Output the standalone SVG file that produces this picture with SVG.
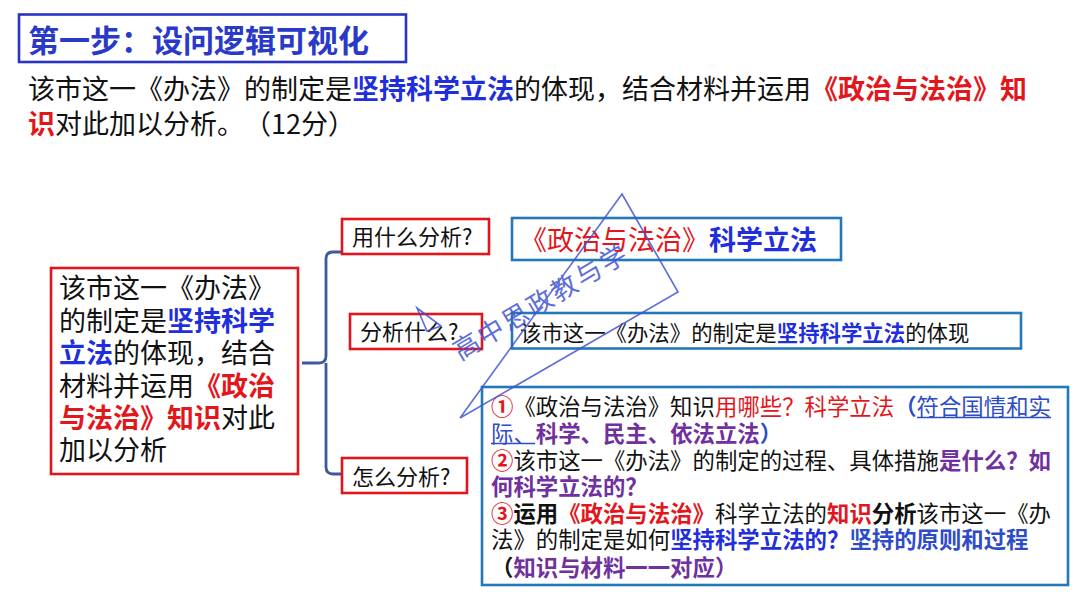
<svg xmlns="http://www.w3.org/2000/svg" width="1080" height="608" viewBox="0 0 1080 608">
<style>
text{font-family:"Noto Sans CJK SC","Noto Sans",sans-serif;fill:#111;}
.b{font-weight:700;}
.red{fill:#e3161c;}
.blu{fill:#1f2fdc;}
.blu2{fill:#2f4cc8;}
.pur{fill:#7030a0;}
.ttl{fill:#2a3ac8;font-weight:700;font-size:31px;}
.rbox{fill:#fff;stroke:#e0151d;stroke-width:2.6;}
.bbox{fill:#fff;stroke:#2478b8;stroke-width:2.6;}
.lbl{font-size:22px;}
.big{font-size:22.4px;}
.l27{font-size:27px;}
.wm{fill:none;stroke:#4254d4;stroke-width:1.6;}
</style>
<rect width="1080" height="608" fill="#fff"/>

<g id="title">
<rect x="19" y="14.5" width="387" height="47.5" fill="#fff" stroke="#2a33c4" stroke-width="2.6"/>
<text x="28" y="52" class="ttl">第一步：设问逻辑可视化</text>
</g>

<g id="question" class="l27">
<text x="28" y="99" class="l27">该市这一《办法》的制定是</text>
<text x="352" y="99" class="l27 b blu">坚持科学立法</text>
<text x="514" y="99" class="l27">的体现，结合材料并运用</text>
<text x="811" y="99" class="l27 b red">《政治与法治》知</text>
<text x="28" y="134" class="l27 b red">识</text>
<text x="55" y="134" class="l27">对此加以分析。</text>
<text x="244" y="134" class="l27">（12分）</text>
</g>

<g id="connectors">
<path d="M302,363 H319 Q326,363 326,356 V259 Q326,252 333,252 H342 M326,363 V467 Q326,474 333,474 H342" fill="none" stroke="#3b5a9c" stroke-width="2.8"/>
</g>

<g id="main">
<rect x="51" y="268" width="247" height="206" class="rbox"/>
<text x="59" y="298" class="l27">该市这一《办法》</text>
<text x="59" y="330.5" class="l27">的制定是</text>
<text x="167" y="330.5" class="l27 b blu">坚持科学</text>
<text x="59" y="363" class="l27 b blu">立法</text>
<text x="113" y="363" class="l27">的体现，结合</text>
<text x="59" y="395.5" class="l27">材料并运用</text>
<text x="194" y="395.5" class="l27 b red">《政治</text>
<text x="59" y="428" class="l27 b red">与法治》知识</text>
<text x="221" y="428" class="l27">对此</text>
<text x="59" y="460" class="l27">加以分析</text>
</g>

<g id="q1">
<rect x="342" y="219" width="147" height="35" class="rbox"/>
<text x="352" y="245" class="lbl">用什么分析?</text>
</g>
<g id="q2">
<rect x="350" y="314" width="132" height="35" class="rbox"/>
<text x="360" y="340" class="lbl">分析什么?</text>
</g>
<g id="q3">
<rect x="342" y="458" width="125" height="35" class="rbox"/>
<text x="352" y="485" class="lbl">怎么分析?</text>
</g>

<g id="a1">
<rect x="512" y="218" width="329" height="42" class="bbox"/>
<text x="520" y="250" class="l27 red">《政治与法治》</text>
<text x="709" y="250" class="l27 b blu">科学立法</text>
</g>

<g id="a2">
<rect x="512" y="313" width="509" height="35.5" class="bbox"/>
<text x="520" y="341" font-size="21.4">该市这一《办法》的制定是</text>
<text x="776.8" y="341" font-size="21.4" class="b blu">坚持科学立法</text>
<text x="905.2" y="341" font-size="21.4">的体现</text>
</g>

<g id="a3">
<rect x="482" y="387" width="586" height="198" class="bbox"/>
<text x="491" y="415" class="big b red">①</text>
<text x="513.4" y="415" class="big">《政治与法治》知识</text>
<text x="715" y="415" class="big red">用哪些？科学立法</text>
<text x="894.2" y="415" class="big b blu2">（</text>
<text x="916.6" y="415" class="big blu2">符合国情和实</text>

<text x="491" y="441.5" class="big blu2">际、</text>
<text x="535.8" y="441.5" class="big b pur">科学、民主、依法立法</text>
<text x="759.8" y="441.5" class="big b blu2">）</text>

<text x="491" y="469" class="big b red">②</text>
<text x="513.4" y="469" class="big">该市这一《办法》的制定的过程、具体措施</text>
<text x="939" y="469" class="big b pur">是什么？如</text>

<text x="491" y="495" class="big b pur">何科学立法的？</text>

<text x="491" y="521.5" class="big b red">③</text>
<text x="513.4" y="521.5" class="big b">运用</text>
<text x="558.2" y="521.5" class="big b red">《政治与法治》</text>
<text x="715" y="521.5" class="big">科学立法的</text>
<text x="827" y="521.5" class="big b red">知识</text>
<text x="871.8" y="521.5" class="big b">分析</text>
<text x="916.6" y="521.5" class="big">该市这一《办</text>

<text x="491" y="548" class="big">法》的制定是如何</text>
<text x="670.2" y="548" class="big b blu">坚持科学立法的？</text>
<text x="849.4" y="548" class="big b blu2">坚持的原则和过程</text>

<text x="491" y="576" class="big b">（</text>
<text x="513.4" y="576" class="big b pur">知识与材料一一对应）</text>
<path d="M917,417.5 H1051 M491,443.5 H535" stroke="#2f4cc8" stroke-width="1.3" fill="none"/>
</g>

<g id="watermark" opacity="0.85">
<polygon points="622,194 678,292 460,418" class="wm"/>
<polygon points="417,308 441,326 427,331" class="wm"/>
<text transform="translate(541,302) rotate(-31)" y="9" text-anchor="middle" font-size="26" letter-spacing="2.5" style="fill:#4254d4">高中思政教与学</text>
</g>
</svg>
